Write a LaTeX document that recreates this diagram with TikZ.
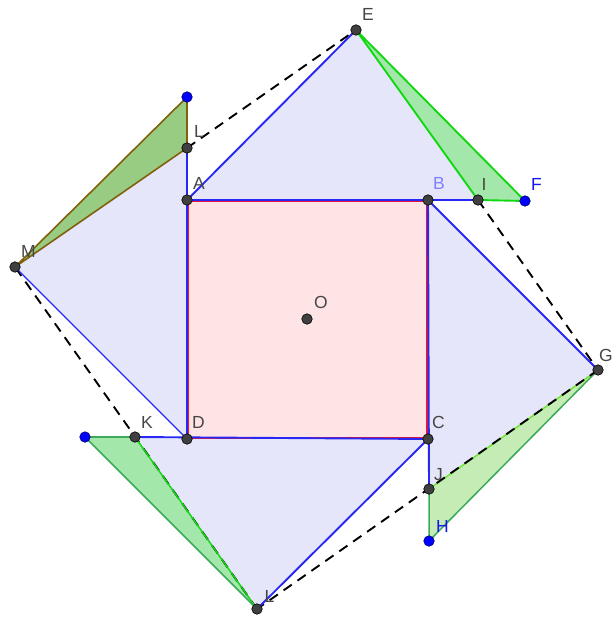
\documentclass[tikz,border=0pt]{standalone}
\usepackage{fontspec}
\setmainfont{Liberation Sans}
\definecolor{lav}{RGB}{230,230,251}
\definecolor{pinkfill}{RGB}{255,228,230}
\definecolor{myblue}{RGB}{40,40,245}
\definecolor{myred}{RGB}{230,20,60}
\definecolor{gfill}{RGB}{163,232,170}
\definecolor{gfillb}{RGB}{196,236,180}
\definecolor{gfillc}{RGB}{152,204,130}
\definecolor{gedge}{RGB}{20,215,20}
\definecolor{gedgeb}{RGB}{110,230,50}
\definecolor{gedged}{RGB}{60,170,90}
\definecolor{brownedge}{RGB}{128,96,10}
\definecolor{labgray}{RGB}{70,70,70}
\definecolor{ptgray}{RGB}{64,64,64}
\definecolor{labblue}{RGB}{20,20,240}
\definecolor{lablight}{RGB}{128,128,255}
\begin{document}
\begin{tikzpicture}[x=1pt,y=-1pt,
  lbl/.style={font=\fontsize{17.5}{17.5}\selectfont, text=labgray, inner sep=0pt, anchor=base west},
  pt/.style={circle, fill=ptgray, draw=black, line width=0.6pt, inner sep=0pt, minimum size=10.5pt},
  bpt/.style={circle, fill=blue, draw=black!60!blue, line width=0.6pt, inner sep=0pt, minimum size=10.5pt},
  dsh/.style={dash pattern=on 10pt off 7pt, line width=1.9pt, black},
  bl/.style={draw=myblue, line width=1.9pt}]
\useasboundingbox (0,0) rectangle (613,617);
% points
\coordinate (A) at (187,200);
\coordinate (B) at (428,200);
\coordinate (C) at (428,439);
\coordinate (D) at (187,439);
\coordinate (O) at (307,319);
\coordinate (E) at (356,30);
\coordinate (G) at (598,370);
\coordinate (L) at (257,609);
\coordinate (M) at (15,267);
\coordinate (I) at (478,200);
\coordinate (J) at (429,489);
\coordinate (K) at (135,437);
\coordinate (Lp) at (187,148);
\coordinate (F) at (525,201);
\coordinate (H) at (429,541);
\coordinate (P) at (85,437);
\coordinate (Q) at (187,97);
% lavender triangles
\fill[lav] (A) -- (E) -- (I) -- cycle;
\fill[lav] (B) -- (G) -- (J) -- cycle;
\fill[lav] (C) -- (L) -- (K) -- cycle;
\fill[lav] (D) -- (M) -- (Lp) -- cycle;
% square
\fill[pinkfill] (A) -- (B) -- (C) -- (D) -- cycle;
% green triangles fills
\fill[gfill] (E) -- (I) -- (F) -- cycle;
\fill[gfillb] (G) -- (J) -- (H) -- cycle;
\fill[gfill] (L) -- (K) -- (P) -- cycle;
\fill[gfillc] (M) -- (Lp) -- (Q) -- cycle;
% green edges under the dashes
\draw[gedgeb, line width=1.5pt] (G) -- (J);
\draw[gedged, line width=1.5pt] (J) -- (H) -- (G);
% dashed outer square
\draw[dsh] (Lp) -- (E);
\draw[dsh] (I) -- (G);
\draw[dsh] (G) -- (L);
\draw[dsh] (L) -- (M);
% other triangle edges
\draw[gedge, line width=1.9pt, line join=round] (E) -- (I) -- (F) -- cycle;
\draw[gedge, line width=1.5pt] (K) -- (L);
\draw[gedged, line width=1.6pt] (L) -- (P) -- (K);
\draw[brownedge, line width=1.6pt, line join=round] (M) -- (Lp) -- (Q) -- cycle;
% square edges (red under blue)
\draw[myred, line width=1.4pt] ([shift={(1,1)}]A) -- ([shift={(-1,1)}]B) -- ([shift={(-1,-1)}]C) -- ([shift={(1,-1)}]D) -- cycle;
% blue triangle edges
\draw[bl] (A) -- (E);
\draw[bl] (A) -- (I);
\draw[bl] (B) -- (G);
\draw[bl] (B) -- (J);
\draw[bl] (C) -- (L);
\draw[bl] (C) -- (K);
\draw[draw=myblue, line width=1.1pt] (D) -- (M);
\draw[bl] (D) -- (Lp);
% point markers
\foreach \p in {A,B,C,D,O,E,G,L,M,I,J,K,Lp} {\node[pt] (n\p) at (\p) {};}
\foreach \p in {F,H,P,Q} {\node[bpt] (n\p) at (\p) {};}
% labels
\node[lbl] (tE) at (362,21) {E};
\node[lbl] (tA) at (193,190) {A};
\node[lbl, text=lablight] (tB) at (433,190) {B};
\node[lbl] (tI) at (481.5,191) {I};
\node[lbl, text=labblue] (tF) at (531,191) {F};
\node[lbl] (tLp) at (194,138) {L};
\node[lbl] (tM) at (21,258) {M};
\node[lbl] (tO) at (314,308) {O};
\node[lbl] (tK) at (141,428) {K};
\node[lbl] (tD) at (192,428) {D};
\node[lbl] (tC) at (432,428) {C};
\node[lbl] (tJ) at (434,480) {J};
\node[lbl, text=labblue] (tH) at (436,532) {H};
\node[lbl] (tG) at (599,361) {G};
\node[lbl] (tL) at (264.5,602) {L};
\end{tikzpicture}
\end{document}
